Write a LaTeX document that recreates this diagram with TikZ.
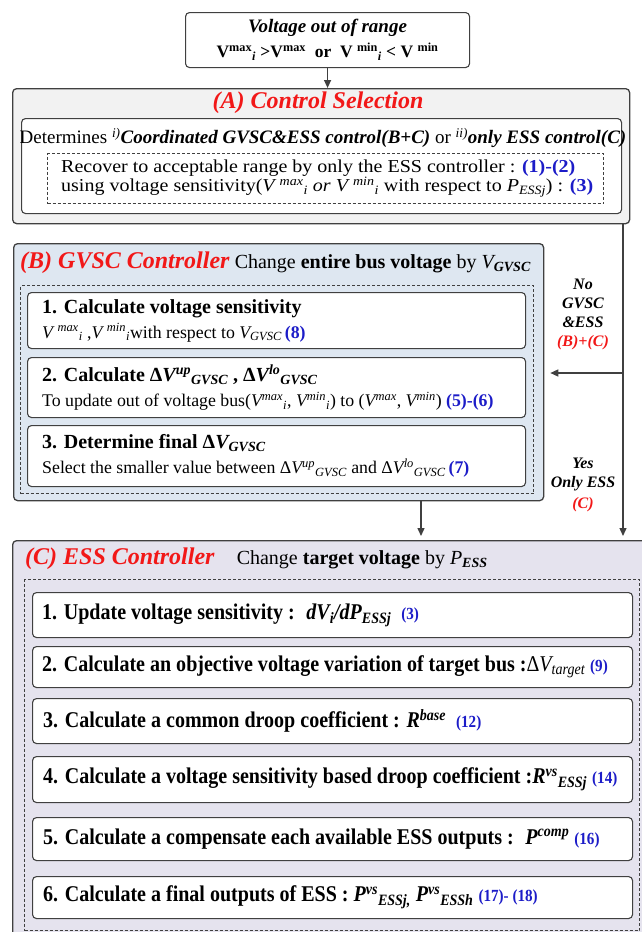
\documentclass[tikz,border=0pt]{standalone}
\usepackage{fontspec}
\setmainfont{Liberation Serif}
\newfontfamily\essfont{Liberation Serif}[FakeStretch=0.89]
\newfontfamily\notefont{Liberation Serif}[FakeStretch=1.1]
\usetikzlibrary{arrows.meta,positioning}
\definecolor{edge}{HTML}{404040}
\definecolor{selbg}{HTML}{F2F2F2}
\definecolor{gvscbg}{HTML}{DEE7F1}
\definecolor{essbg}{HTML}{E5E3EE}
\definecolor{hdred}{HTML}{F21818}
\definecolor{eqblue}{HTML}{1C1CC8}
\newcommand\hi[1]{\textsuperscript{#1}}
\newcommand\lo[1]{\textsubscript{#1}}
\newcommand\eq[1]{\textcolor{eqblue}{\textbf{#1}}}
\newcommand\fs[2]{\fontsize{#1}{#2}\selectfont}
\tikzset{
  panel/.style={draw=edge,line width=1.3pt,rounded corners=4pt,inner sep=0pt,anchor=north west},
  stepbox/.style={draw=edge,fill=white,line width=1.1pt,rounded corners=4pt,inner sep=0pt,anchor=north west},
  dashbox/.style={draw=edge,line width=1pt,dash pattern=on 3pt off 2pt,inner sep=0pt,anchor=north west},
  flow/.style={draw=edge,line width=1.4pt,-{Triangle[length=8pt,width=7pt]}},
  esstext/.style={anchor=west,inner sep=0pt,font=\essfont\fs{22.5}{26}},
}
\begin{document}
\begin{tikzpicture}[x=1pt,y=-1pt,font=\fs{20}{25}]
  \useasboundingbox (0,0) rectangle (641,932);
  % start
  \node[stepbox,minimum width=284pt,minimum height=55pt,align=center,font=\fs{19}{25}\bfseries] (oor) at (185,12)
    {\textit{Voltage out of range}\\\fs{17.5}{25}V\hi{max}\lo{\textit{i}} >V\hi{max} \ or \ V \hi{min}\lo{\textit{i}} < V \hi{min}};
  % (A)
  \node[panel,fill=selbg,minimum width=617pt,minimum height=135pt] (selp) at (12,88) {};
  \node[font=\fs{24}{28}\bfseries\itshape,text=hdred,inner sep=0pt] (selt) at (318,103) {(A) Control Selection};
  \node[stepbox,minimum width=600pt,minimum height=95pt] (selin) at (21,118) {};
  \node[inner sep=0pt,font=\fs{19}{24}] (seldet) at (323,138) {Determines \hi{\textit{i)}}\textbf{\textit{Coordinated GVSC\&ESS control(B+C)}} or \hi{\textit{ii)}}\textbf{\textit{only ESS control(C)}}};
  \node[dashbox,minimum width=556pt,minimum height=50pt] (selrule) at (47,153) {};
  \node[anchor=west,align=left,inner sep=0pt,font=\notefont\fs{18.2}{19}] (selnote) at ([xshift=14pt]selrule.west)
    {Recover to acceptable range by only the ESS controller : \eq{(1)-(2)}\\
     using voltage sensitivity(\textit{V \hi{max}\lo{i} or V \hi{min}\lo{i}} with respect to \textit{P\lo{ESSj}}) : \eq{(3)}};
  % (B)
  \node[panel,fill=gvscbg,minimum width=530pt,minimum height=257pt] (gvsc) at (13,243) {};
  \node[anchor=west,inner sep=0pt] (gvsct) at (20,263)
    {\textcolor{hdred}{\fs{24}{28}\textbf{\textit{(B) GVSC Controller}}} Change \textbf{entire bus voltage} by \textit{V\lo{\textbf{GVSC}}}};
  \node[dashbox,minimum width=513pt,minimum height=208pt] (gvscrule) at (20,285) {};
  \foreach \i/\t/\h in {1/292/56,2/357/60,3/425/61}
    \node[stepbox,minimum width=498pt,minimum height=\h pt] (b\i) at (27,\t) {};
  \node[anchor=west,align=left,inner sep=0pt] at ([xshift=15pt]b1.west)
    {\textbf{1. Calculate voltage sensitivity}\\ \fs{17.8}{25}\textit{V \hi{max}\lo{i}} ,\textit{V \hi{min}\lo{i}}with respect to \textit{V\lo{GVSC}}\,\eq{(8)}};
  \node[anchor=west,align=left,inner sep=0pt] at ([xshift=15pt]b2.west)
    {\textbf{2. Calculate Δ\textit{V\hi{up}\lo{GVSC}} , Δ\textit{V\hi{lo}\lo{GVSC}}}\\ \fs{17.8}{25}To update out of voltage bus(\textit{V\hi{max}\lo{i}}, \textit{V\hi{min}\lo{i}}) to (\textit{V\hi{max}}, \textit{V\hi{min}}) \eq{(5)-(6)}};
  \node[anchor=west,align=left,inner sep=0pt] at ([xshift=15pt]b3.west)
    {\textbf{3. Determine final Δ\textit{V\lo{GVSC}}}\\ \fs{17.8}{25}Select the smaller value between Δ\textit{V\hi{up}\lo{GVSC}} and Δ\textit{V\hi{lo}\lo{GVSC}}\,\eq{(7)}};
  % (C)
  \node[panel,fill=essbg,minimum width=660pt,minimum height=420pt] (ess) at (12,540) {};
  \node[anchor=west,inner sep=0pt] (esst) at (25,559)
    {\textcolor{hdred}{\fs{24}{28}\textbf{\textit{(C) ESS Controller}}}\hspace{22pt}Change \textbf{target voltage} by \textit{P\lo{\textbf{ESS}}}};
  \node[dashbox,minimum width=615pt,minimum height=351pt] (essrule) at (24,579) {};
  \foreach \i/\t/\h in {1/592/45,2/646/41,3/698/45,4/756/46,5/817/43,6/876/42}
    \node[stepbox,minimum width=600pt,minimum height=\h pt] (c\i) at (32,\t) {};
  \node[esstext] at ([xshift=10pt]c1.west) {\textbf{1. Update voltage sensitivity : \ \textit{dV\lo{i}/dP\lo{ESSj}}} \ \eq{\fs{17}{20}(3)}};
  \node[esstext] at ([xshift=10pt]c2.west) {\textbf{2. Calculate an objective voltage variation of target bus :}Δ\textit{V\lo{target}} \eq{\fs{17}{20}(9)}};
  \node[esstext] at ([xshift=11pt]c3.west) {\textbf{3. Calculate a common droop coefficient : \textit{R\hi{base}}} \ \eq{\fs{17}{20}(12)}};
  \node[esstext] at ([xshift=11pt]c4.west) {\textbf{4. Calculate a voltage sensitivity based droop coefficient :\textit{R\hi{vs}\lo{ESSj}}} \eq{\fs{17}{20}(14)}};
  \node[esstext] at ([xshift=11pt]c5.west) {\textbf{5. Calculate a compensate each available ESS outputs : \ \textit{P\hi{comp}}} \eq{\fs{17}{20}(16)}};
  \node[esstext] at ([xshift=11pt]c6.west) {\textbf{6. Calculate a final outputs of ESS : \textit{P\hi{vs}\lo{ESSj,} P\hi{vs}\lo{ESSh}}} \eq{\fs{17}{20}(17)- (18)}};
  % connectors
  \coordinate (tap) at (623,223);
  \coordinate (fork) at (623,373);
  \coordinate (bout) at (421,500);
  \draw[flow] (oor.south) -- (oor.south |- selp.north);
  \draw[flow,shorten >=4pt] (tap) -- (tap |- ess.north);
  \draw[flow,shorten >=6pt] (fork) -- (fork -| gvsc.east);
  \draw[flow,shorten >=4pt] (bout) -- (bout |- ess.north);
  \node[font=\fs{16}{19}\bfseries\itshape,align=center,inner sep=0pt] (nolbl) at (583,314) {No\\GVSC\\\&ESS\\\textcolor{hdred}{(B)+(C)}};
  \node[font=\fs{16}{19}\bfseries\itshape,align=center,inner sep=0pt] (yeslbl) at (583,485) {Yes\\Only ESS\\[2pt]\textcolor{hdred}{(C)}};
\end{tikzpicture}
\end{document}
